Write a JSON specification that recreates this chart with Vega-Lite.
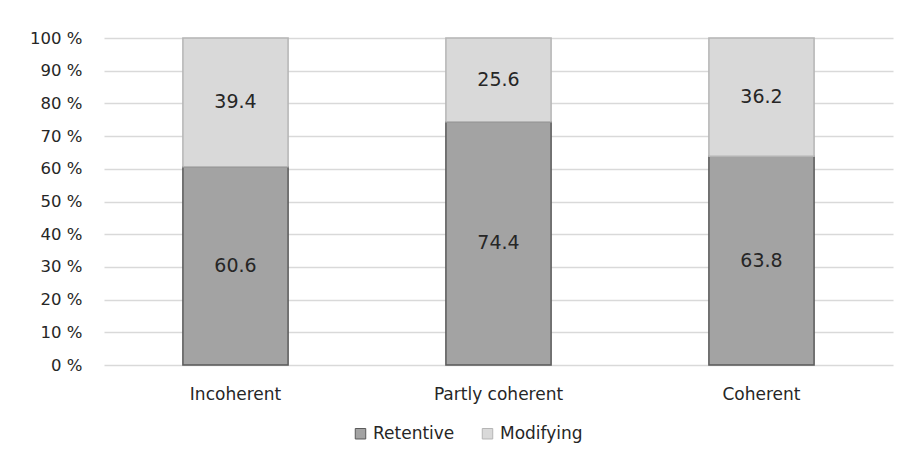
{
  "$schema": "https://vega.github.io/schema/vega-lite/v6.json",
  "width": 789,
  "height": 327,
  "autosize": "none",
  "padding": {"left": 104, "top": 38, "right": 15, "bottom": 88},
  "config": {
    "view": {"stroke": null},
    "font": "DejaVu Sans",
    "axisY": {
      "title": null,
      "values": [0, 10, 20, 30, 40, 50, 60, 70, 80, 90, 100],
      "labelExpr": "datum.value + ' %'",
      "labelOverlap": false,
      "labelFontSize": 16.5,
      "labelColor": "#262626",
      "labelPadding": 22,
      "ticks": false,
      "domain": false,
      "gridColor": "#d9d9d9",
      "gridWidth": 1.5
    }
  },
  "data": {
    "values": [
      {"category": "Incoherent", "series": "Retentive", "value": 60.6},
      {"category": "Incoherent", "series": "Modifying", "value": 39.4},
      {"category": "Partly coherent", "series": "Retentive", "value": 74.4},
      {"category": "Partly coherent", "series": "Modifying", "value": 25.6},
      {"category": "Coherent", "series": "Retentive", "value": 63.8},
      {"category": "Coherent", "series": "Modifying", "value": 36.2}
    ]
  },
  "transform": [
    {"stack": "value", "groupby": ["category"], "sort": [{"field": "series", "order": "descending"}], "as": ["v0", "v1"]},
    {"calculate": "(datum.v0 + datum.v1) / 2", "as": "mid"}
  ],
  "encoding": {
    "x": {
      "field": "category",
      "type": "nominal",
      "sort": ["Incoherent", "Partly coherent", "Coherent"],
      "scale": {"paddingInner": 0.6, "paddingOuter": 0.3},
      "axis": {"title": null, "labelAngle": 0, "labelFontSize": 17, "labelColor": "#262626", "labelPadding": 21, "ticks": false, "domain": false}
    }
  },
  "layer": [
    {
      "mark": {"type": "bar", "strokeWidth": 1.5},
      "encoding": {
        "y": {
          "field": "v0",
          "type": "quantitative",
          "scale": {"domain": [0, 100]},
          "axis": {"values": [0, 10, 20, 30, 40, 50, 60, 70, 80, 90, 100], "title": null}
        },
        "y2": {"field": "v1"},
        "color": {
          "field": "series",
          "type": "nominal",
          "scale": {"domain": ["Retentive", "Modifying"], "range": ["#a3a3a3", "#d9d9d9"]},
          "legend": {"title": null, "orient": "none", "legendX": 248, "legendY": 387, "direction": "horizontal", "symbolType": "square", "symbolSize": 110, "symbolStrokeWidth": 1, "labelFontSize": 17, "labelColor": "#262626", "labelOffset": 4, "columnPadding": 24}
        },
        "stroke": {
          "field": "series",
          "type": "nominal",
          "scale": {"domain": ["Retentive", "Modifying"], "range": ["#5a5a5a", "#b5b5b5"]},
          "legend": {"title": null, "orient": "none", "legendX": 248, "legendY": 387, "direction": "horizontal", "symbolType": "square", "symbolSize": 110, "symbolStrokeWidth": 1, "labelFontSize": 17, "labelColor": "#262626", "labelOffset": 4, "columnPadding": 24}
        }
      }
    },
    {
      "mark": {"type": "text", "fontSize": 19, "color": "#262626"},
      "encoding": {
        "y": {"field": "mid", "type": "quantitative", "axis": {"values": [0, 10, 20, 30, 40, 50, 60, 70, 80, 90, 100], "title": null}},
        "text": {"field": "value", "type": "quantitative", "format": ".1f"}
      }
    }
  ]
}
